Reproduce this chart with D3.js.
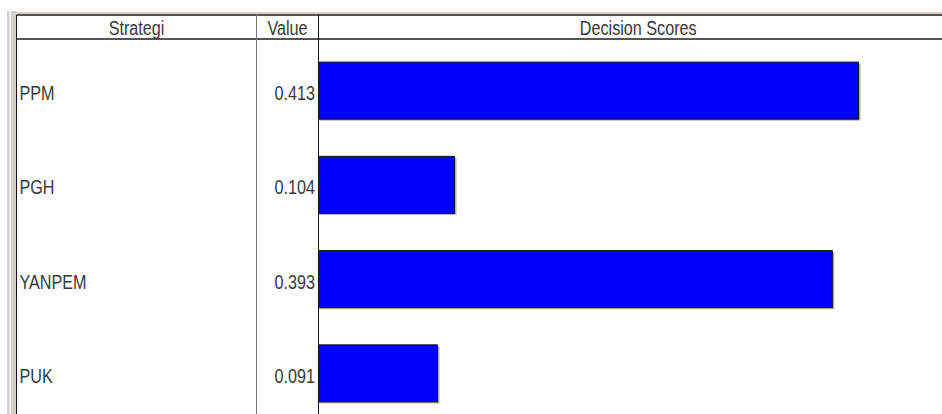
<!DOCTYPE html>
<html>
<head>
<meta charset="utf-8">
<script src="https://cdnjs.cloudflare.com/ajax/libs/d3/7.8.5/d3.min.js"></script>
<style>
    body { margin: 0; background: #fff; }
    svg { display: block; }
    text { font-family: "Liberation Sans", Arial, sans-serif; font-size: 21px; fill: #3a3a3a; }
</style>
</head>
<body>
<script>
var categories = ['PPM', 'PGH', 'YANPEM', 'PUK'];
var values = [0.413, 0.104, 0.393, 0.091];
var valueLabels = ['0.413', '0.104', '0.393', '0.091'];
var headers = ['Strategi', 'Value', 'Decision Scores'];

var width = 942;
var height = 414;
var narrow = 0.77; // squeeze text to look like a narrow face

var svg = d3.select('body').append('svg')
    .attr('width', width)
    .attr('height', height);

// column edges
var colLeft = 16.5;
var colValue = 256.5;
var colBars = 318.5;
var headTop = 15;
var headBottom = 39;

var y = d3.scaleBand()
    .domain(categories)
    .range([43.5, 420.5]);

var x = d3.scaleLinear()
    .domain([0, d3.max(values)])
    .range([colBars, 858.5]);

var barH = y.bandwidth() * 0.605;

function place(tx, ty) {
    return 'translate(' + tx + ',' + ty + ') scale(' + narrow + ',1)';
}

// window-ish frame on the left and top
svg.append('rect').attr('x', 7).attr('y', 11).attr('width', 2.5).attr('height', height).attr('fill', '#d4d0c8');
svg.append('rect').attr('x', 11).attr('y', 11).attr('width', 5).attr('height', height).attr('fill', '#d4d0c8');
svg.append('rect').attr('x', 11).attr('y', 12).attr('width', width).attr('height', 2).attr('fill', '#d4d0c8');

// header lines
svg.append('line')
    .attr('x1', colLeft).attr('x2', width)
    .attr('y1', headTop).attr('y2', headTop)
    .attr('stroke', '#555').attr('stroke-width', 2);
svg.append('line')
    .attr('x1', colLeft).attr('x2', width)
    .attr('y1', headBottom).attr('y2', headBottom)
    .attr('stroke', '#555').attr('stroke-width', 2);

// column dividers
svg.append('line')
    .attr('x1', colLeft).attr('x2', colLeft)
    .attr('y1', headTop).attr('y2', height)
    .attr('stroke', '#111');
svg.append('line')
    .attr('x1', colValue).attr('x2', colValue)
    .attr('y1', headTop).attr('y2', height)
    .attr('stroke', '#777');
svg.append('line')
    .attr('x1', colBars).attr('x2', colBars)
    .attr('y1', headTop).attr('y2', height)
    .attr('stroke', '#111');

var headX = [(colLeft + colValue) / 2, (colValue + colBars) / 2, (colBars + width) / 2 + 8];
svg.selectAll('.head')
    .data(headers)
    .enter().append('text')
        .attr('class', 'head')
        .attr('transform', function(d, i) { return place(headX[i], 35); })
        .attr('text-anchor', 'middle')
        .text(function(d) { return d; });

var row = svg.selectAll('.row')
    .data(categories)
    .enter().append('g')
        .attr('class', 'row');

row.append('text')
    .attr('transform', function(d) { return place(19.5, y(d) + y.bandwidth() / 2 + 9.5); })
    .text(function(d) { return d; });

row.append('text')
    .attr('transform', function(d) { return place(315, y(d) + y.bandwidth() / 2 + 9.5); })
    .attr('text-anchor', 'end')
    .text(function(d, i) { return valueLabels[i]; });

// light shadow then the bar itself
row.append('rect')
    .attr('x', colBars + 1)
    .attr('y', function(d) { return y(d) + (y.bandwidth() - barH) / 2 + 1.5; })
    .attr('width', function(d, i) { return x(values[i]) - colBars + 1; })
    .attr('height', barH)
    .attr('fill', '#b0b0b0');

row.append('rect')
    .attr('x', colBars)
    .attr('y', function(d) { return y(d) + (y.bandwidth() - barH) / 2; })
    .attr('width', function(d, i) { return x(values[i]) - colBars; })
    .attr('height', barH)
    .attr('fill', '#0000ff')
    .attr('stroke', '#111')
    .attr('stroke-width', 1);
</script>
</body>
</html>
